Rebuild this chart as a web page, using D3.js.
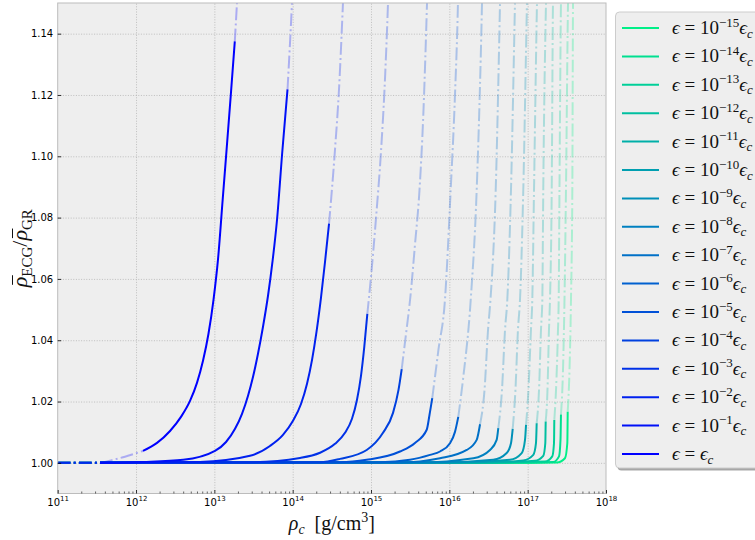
<!DOCTYPE html>
<html>
<head>
<meta charset="utf-8">
<script src="https://cdn.jsdelivr.net/npm/d3@7"></script>
<style>
  body { margin: 0; background: #ffffff; }
  svg { display: block; }
</style>
</head>
<body>
<svg id="chart" width="755" height="540"></svg>
<script>
// ϵ = 10^k ϵ_c for each curve (k = 0 is ϵ = ϵ_c)
const epsExponents = [0, -1, -2, -3, -4, -5, -6, -7, -8, -9, -10, -11, -12, -13, -14, -15];

// log10(ρ_c [g/cm^3]) samples and density ratio samples, one pair per ϵ
const logRho_e0  = [11.000, 11.540, 11.706, 11.859, 12.089, 12.268, 12.434, 12.574, 12.689, 12.778, 12.855, 12.925, 12.989, 13.046, 13.106, 13.149, 13.209, 13.261, 13.289, 13.300];
const ratio_e0   = [1.0000, 1.0000, 1.0010, 1.0020, 1.0039, 1.0065, 1.0104, 1.0150, 1.0202, 1.0261, 1.0333, 1.0421, 1.0532, 1.0662, 1.0858, 1.0998, 1.1197, 1.1375, 1.1500, 1.1550];
const logRho_e1  = [11.000, 11.540, 12.089, 12.603, 13.008, 13.149, 13.264, 13.353, 13.430, 13.493, 13.557, 13.621, 13.685, 13.742, 13.800, 13.867, 13.934, 13.991, 14.000];
const ratio_e1   = [1.0000, 1.0000, 1.0003, 1.0010, 1.0039, 1.0068, 1.0111, 1.0160, 1.0219, 1.0280, 1.0356, 1.0444, 1.0545, 1.0656, 1.0793, 1.1014, 1.1218, 1.1500, 1.1550];
const logRho_e2  = [11.000, 11.540, 12.817, 13.455, 13.710, 13.876, 14.004, 14.106, 14.183, 14.247, 14.304, 14.361, 14.413, 14.464, 14.540, 14.591, 14.642, 14.652];
const ratio_e2   = [1.0000, 1.0000, 1.0003, 1.0023, 1.0055, 1.0091, 1.0137, 1.0192, 1.0258, 1.0336, 1.0427, 1.0538, 1.0656, 1.0780, 1.1021, 1.1217, 1.1500, 1.1560];
const logRho_e3  = [11.000, 11.540, 13.455, 14.093, 14.349, 14.540, 14.668, 14.757, 14.821, 14.872, 14.914, 14.953, 14.996, 15.064, 15.127, 15.172, 15.217, 15.225];
const ratio_e3   = [1.0000, 1.0000, 1.0002, 1.0016, 1.0033, 1.0062, 1.0098, 1.0144, 1.0206, 1.0284, 1.0378, 1.0486, 1.0597, 1.0799, 1.1014, 1.1217, 1.1500, 1.1560];
const logRho_e4  = [11.000, 11.540, 14.349, 14.604, 14.945, 15.153, 15.281, 15.351, 15.392, 15.447, 15.504, 15.561, 15.619, 15.670, 15.715, 15.722];
const ratio_e4   = [1.0000, 1.0000, 1.0002, 1.0013, 1.0042, 1.0098, 1.0163, 1.0238, 1.0306, 1.0421, 1.0545, 1.0711, 1.0890, 1.1151, 1.1500, 1.1560];
const logRho_e5  = [11.000, 11.540, 14.604, 14.945, 15.370, 15.561, 15.711, 15.747, 15.782, 15.861, 15.944, 16.017, 16.072, 16.110, 16.115];
const ratio_e5   = [1.0000, 1.0000, 1.0002, 1.0010, 1.0037, 1.0065, 1.0108, 1.0157, 1.0211, 1.0369, 1.0532, 1.0890, 1.1200, 1.1500, 1.1560];
const logRho_e6  = [11.000, 11.540, 15.115, 15.498, 15.753, 15.881, 16.008, 16.072, 16.114, 16.174, 16.273, 16.349, 16.417, 16.422];
const ratio_e6   = [1.0000, 1.0000, 1.0002, 1.0010, 1.0026, 1.0037, 1.0064, 1.0101, 1.0150, 1.0271, 1.0532, 1.0890, 1.1500, 1.1560];
const logRho_e7  = [11.000, 11.540, 15.370, 15.881, 16.222, 16.349, 16.392, 16.449, 16.494, 16.525, 16.592, 16.647, 16.652];
const ratio_e7   = [1.0000, 1.0000, 1.0001, 1.0015, 1.0042, 1.0075, 1.0126, 1.0238, 1.0434, 1.0532, 1.0890, 1.1500, 1.1560];
const logRho_e8  = [11.000, 11.540, 15.625, 16.306, 16.519, 16.604, 16.625, 16.672, 16.711, 16.740, 16.787, 16.838, 16.843];
const ratio_e8   = [1.0000, 1.0000, 1.0001, 1.0015, 1.0042, 1.0075, 1.0113, 1.0238, 1.0434, 1.0532, 1.0890, 1.1500, 1.1560];
const logRho_e9  = [11.000, 11.540, 15.881, 16.561, 16.732, 16.787, 16.809, 16.844, 16.876, 16.902, 16.944, 16.991, 16.996];
const ratio_e9   = [1.0000, 1.0000, 1.0001, 1.0010, 1.0032, 1.0064, 1.0111, 1.0238, 1.0434, 1.0532, 1.0890, 1.1500, 1.1560];
const logRho_e10 = [11.000, 11.540, 16.136, 16.774, 16.924, 16.966, 16.979, 17.010, 17.042, 17.059, 17.081, 17.119, 17.124];
const ratio_e10  = [1.0000, 1.0000, 1.0001, 1.0010, 1.0032, 1.0075, 1.0124, 1.0238, 1.0434, 1.0532, 1.0890, 1.1500, 1.1560];
const logRho_e11 = [11.000, 11.540, 16.392, 16.944, 17.072, 17.106, 17.115, 17.145, 17.170, 17.187, 17.199, 17.234, 17.239];
const ratio_e11  = [1.0000, 1.0000, 1.0001, 1.0008, 1.0026, 1.0064, 1.0129, 1.0238, 1.0434, 1.0532, 1.0890, 1.1500, 1.1560];
const logRho_e12 = [11.000, 11.540, 16.519, 17.094, 17.199, 17.225, 17.230, 17.253, 17.272, 17.285, 17.307, 17.323, 17.327];
const ratio_e12  = [1.0000, 1.0000, 1.0001, 1.0007, 1.0023, 1.0064, 1.0135, 1.0238, 1.0434, 1.0532, 1.0890, 1.1500, 1.1560];
const logRho_e13 = [11.000, 11.540, 16.647, 17.221, 17.314, 17.336, 17.340, 17.362, 17.387, 17.396, 17.406, 17.425, 17.429];
const ratio_e13  = [1.0000, 1.0000, 1.0001, 1.0004, 1.0021, 1.0064, 1.0140, 1.0238, 1.0434, 1.0532, 1.0890, 1.1500, 1.1560];
const logRho_e14 = [11.000, 11.540, 16.711, 17.327, 17.400, 17.419, 17.425, 17.451, 17.470, 17.489, 17.515, 17.519];
const ratio_e14  = [1.0000, 1.0000, 1.0000, 1.0003, 1.0021, 1.0075, 1.0158, 1.0303, 1.0532, 1.0890, 1.1500, 1.1560];
const logRho_e15 = [11.000, 11.540, 16.774, 17.371, 17.476, 17.506, 17.511, 17.534, 17.553, 17.570, 17.579, 17.583];
const ratio_e15  = [1.0000, 1.0000, 1.0000, 1.0001, 1.0015, 1.0064, 1.0167, 1.0303, 1.0532, 1.0890, 1.1500, 1.1560];

// log10(ρ_c) interval in which each curve is drawn solid; outside it is dash-dotted and faded
const solidFrom = [12.089, 11.540, 11.540, 11.540, 11.540, 11.540, 11.540, 11.540, 11.540, 11.540, 11.540, 11.540, 11.540, 11.540, 11.540, 11.540];
const solidTo   = [13.261, 13.934, 14.464, 14.953, 15.392, 15.782, 16.114, 16.392, 16.625, 16.809, 16.979, 17.115, 17.230, 17.340, 17.425, 17.511];

// axis ticks
const xTickExps = [11, 12, 13, 14, 15, 16, 17, 18];
const yTicks = [1.00, 1.02, 1.04, 1.06, 1.08, 1.10, 1.12, 1.14];

const logRhoSets = [logRho_e0, logRho_e1, logRho_e2, logRho_e3, logRho_e4, logRho_e5, logRho_e6, logRho_e7,
                    logRho_e8, logRho_e9, logRho_e10, logRho_e11, logRho_e12, logRho_e13, logRho_e14, logRho_e15];
const ratioSets = [ratio_e0, ratio_e1, ratio_e2, ratio_e3, ratio_e4, ratio_e5, ratio_e6, ratio_e7,
                   ratio_e8, ratio_e9, ratio_e10, ratio_e11, ratio_e12, ratio_e13, ratio_e14, ratio_e15];

const curves = epsExponents.map((k, i) => ({
  k, idx: i,
  pts: logRhoSets[i].map((l, j) => [l, ratioSets[i][j]]),
  from: solidFrom[i], to: solidTo[i]
}));

// ---------- layout ----------
const svg = d3.select("#chart");
const P = { left: 57.7, right: 606, top: 3, bottom: 493.5 };
const x = d3.scaleLog().domain([1e11, 1e18]).range([P.left, P.right]);
const y = d3.scaleLinear().domain([0.99, 1.15]).range([P.bottom, P.top]);

// winter-like colormap: blue for ϵ_c through to spring green for the smallest ϵ
const cmap = d3.scaleLinear().domain([0, 1]).range(["#0000ff", "#00ff80"]).interpolate(d3.interpolateRgb);
const colorOf = i => cmap(i / 16);

const sansFont = "'DejaVu Sans', sans-serif";
const serifFont = "'Liberation Serif', 'DejaVu Serif', serif";

// plot background
svg.append("rect")
  .attr("x", P.left).attr("y", P.top)
  .attr("width", P.right - P.left).attr("height", P.bottom - P.top)
  .attr("fill", "#eeeeee");

svg.append("clipPath").attr("id", "plotClip")
  .append("rect")
  .attr("x", P.left).attr("y", P.top)
  .attr("width", P.right - P.left).attr("height", P.bottom - P.top);

// grid
const gridX = svg.append("g").attr("transform", `translate(0,${P.bottom})`)
  .call(d3.axisBottom(x).tickValues(xTickExps.slice(1, -1).map(e => Math.pow(10, e)))
    .tickSize(-(P.bottom - P.top)).tickFormat(""));
const gridY = svg.append("g").attr("transform", `translate(${P.left},0)`)
  .call(d3.axisLeft(y).tickValues(yTicks).tickSize(-(P.right - P.left)).tickFormat(""));
[gridX, gridY].forEach(g => {
  g.select(".domain").remove();
  g.selectAll("line").attr("stroke", "#b2b2b2").attr("stroke-width", 0.8).attr("stroke-dasharray", "1,1.6");
});

// curves (smallest ϵ drawn first, ϵ_c on top)
const line = d3.line()
  .x(d => x(Math.pow(10, d[0])))
  .y(d => y(d[1]))
  .curve(d3.curveMonotoneX);

const curveLayer = svg.append("g").attr("clip-path", "url(#plotClip)");
const eps = 1e-9;
curves.slice().reverse().forEach(c => {
  const col = colorOf(c.idx);
  const low = c.pts.filter(p => p[0] <= c.from + eps);
  const mid = c.pts.filter(p => p[0] >= c.from - eps && p[0] <= c.to + eps);
  const high = c.pts.filter(p => p[0] >= c.to - eps);
  [low, high].forEach(seg => {
    if (seg.length > 1) {
      curveLayer.append("path").datum(seg)
        .attr("d", line).attr("fill", "none")
        .attr("stroke", col).attr("stroke-opacity", 0.28)
        .attr("stroke-width", 2).attr("stroke-dasharray", "12.8,3.2,2,3.2");
    }
  });
  curveLayer.append("path").datum(mid)
    .attr("d", line).attr("fill", "none")
    .attr("stroke", col).attr("stroke-width", 2)
    .attr("stroke-linejoin", "round");
});

// frame
svg.append("rect")
  .attr("x", P.left).attr("y", P.top)
  .attr("width", P.right - P.left).attr("height", P.bottom - P.top)
  .attr("fill", "none").attr("stroke", "#bcbcbc").attr("stroke-width", 1);

// x axis: major ticks with 10^n labels, minor ticks inside
const minorTicks = [];
xTickExps.slice(0, -1).forEach(e => { for (let m = 2; m <= 9; m++) minorTicks.push(m * Math.pow(10, e)); });

const xMinor = svg.append("g").attr("transform", `translate(0,${P.bottom})`)
  .call(d3.axisBottom(x).tickValues(minorTicks).tickSize(-2).tickFormat(""));
xMinor.select(".domain").remove();
xMinor.selectAll("line").attr("stroke", "#000").attr("stroke-width", 0.6);

const xAxis = svg.append("g").attr("transform", `translate(0,${P.bottom})`)
  .call(d3.axisBottom(x).tickValues(xTickExps.map(e => Math.pow(10, e))).tickSize(-3.5).tickPadding(5).tickFormat(""));
xAxis.select(".domain").remove();
xAxis.selectAll("line").attr("stroke", "#000").attr("stroke-width", 0.8);
xAxis.selectAll(".tick text").each(function(d) {
  const t = d3.select(this);
  const e = Math.round(Math.log10(d));
  t.text(null).attr("y", 12).attr("dy", null)
    .style("font-family", sansFont).style("font-size", "10px").attr("fill", "#000");
  t.append("tspan").text("10");
  t.append("tspan").text(String(e)).style("font-size", "7px").attr("dy", -4.5);
});

// y axis
const yAxis = svg.append("g").attr("transform", `translate(${P.left},0)`)
  .call(d3.axisLeft(y).tickValues(yTicks).tickSize(-3.5).tickPadding(4.5).tickFormat(d3.format(".2f")));
yAxis.select(".domain").remove();
yAxis.selectAll("line").attr("stroke", "#000").attr("stroke-width", 0.8);
yAxis.selectAll("text").style("font-family", sansFont).style("font-size", "10px").attr("fill", "#000");

// text helper for sub/superscripts
function addRuns(textSel, runs) {
  let shift = 0;
  runs.forEach(r => {
    const s = r.shift || 0;
    const ts = textSel.append("tspan").text(r.t)
      .attr("dy", s - shift)
      .style("font-size", r.size + "px");
    shift = s;
    if (r.italic) ts.style("font-style", "italic");
    if (r.dx) ts.attr("dx", r.dx);
  });
}

// axis titles
const xTitle = svg.append("text")
  .attr("x", (P.left + P.right) / 2).attr("y", 530)
  .attr("text-anchor", "middle").style("font-family", serifFont).attr("fill", "#111");
addRuns(xTitle, [
  { t: "ρ", size: 20, italic: true },
  { t: "c", size: 14, italic: true, shift: 4 },
  { t: "\u2002[g/cm", size: 20, shift: 0 },
  { t: "3", size: 14, shift: -8 },
  { t: "]", size: 20, shift: 0 }
]);

// y title: ρ̄_ECG / ρ̄_GR, bars drawn as short strokes above each ρ
const yTitleG = svg.append("g")
  .attr("transform", `translate(27,${(P.top + P.bottom) / 2}) rotate(-90)`);
const yTitle = yTitleG.append("text")
  .attr("x", 0).attr("y", 0)
  .attr("text-anchor", "middle").style("font-family", serifFont).attr("fill", "#111");
addRuns(yTitle, [
  { t: "ρ", size: 22, italic: true },
  { t: "ECG", size: 15, shift: 4.5 },
  { t: "/", size: 22, shift: 0 },
  { t: "ρ", size: 22, italic: true },
  { t: "GR", size: 15, shift: 4.5 }
]);
[0, 5].forEach(ci => {
  const ext = yTitle.node().getExtentOfChar(ci);
  yTitleG.append("line")
    .attr("x1", ext.x + 2.5).attr("x2", ext.x + ext.width + 1.5)
    .attr("y1", -14.5).attr("y2", -14.5)
    .attr("stroke", "#111").attr("stroke-width", 1);
});

// legend
const L = { x: 615.5, y: 12, w: 150, h: 456, row0: 28, step: 28.4 };
const legend = svg.append("g");
legend.append("rect")
  .attr("x", L.x + 2).attr("y", L.y + 2.5).attr("width", L.w).attr("height", L.h)
  .attr("rx", 4).attr("fill", "#000").attr("fill-opacity", 0.35);
legend.append("rect")
  .attr("x", L.x).attr("y", L.y).attr("width", L.w).attr("height", L.h)
  .attr("rx", 4).attr("fill", "#eeeeee").attr("stroke", "#cccccc").attr("stroke-width", 1);

const legendOrder = curves.slice().reverse();
legendOrder.forEach((c, r) => {
  const cy = L.row0 + r * L.step;
  legend.append("line")
    .attr("x1", 622).attr("x2", 659).attr("y1", cy).attr("y2", cy)
    .attr("stroke", colorOf(c.idx)).attr("stroke-width", 2);
  const t = legend.append("text").attr("x", 672).attr("y", cy + 6)
    .style("font-family", serifFont).attr("fill", "#111");
  if (c.k === 0) {
    addRuns(t, [
      { t: "ϵ", size: 19, italic: true },
      { t: " = ", size: 19 },
      { t: "ϵ", size: 19, italic: true },
      { t: "c", size: 13, italic: true, shift: 3.5 }
    ]);
  } else {
    addRuns(t, [
      { t: "ϵ", size: 19, italic: true },
      { t: " = ", size: 19 },
      { t: "10", size: 19 },
      { t: "\u2212" + Math.abs(c.k), size: 13, shift: -7.5 },
      { t: "ϵ", size: 19, italic: true, shift: 0 },
      { t: "c", size: 13, italic: true, shift: 3.5 }
    ]);
  }
});
</script>
</body>
</html>
